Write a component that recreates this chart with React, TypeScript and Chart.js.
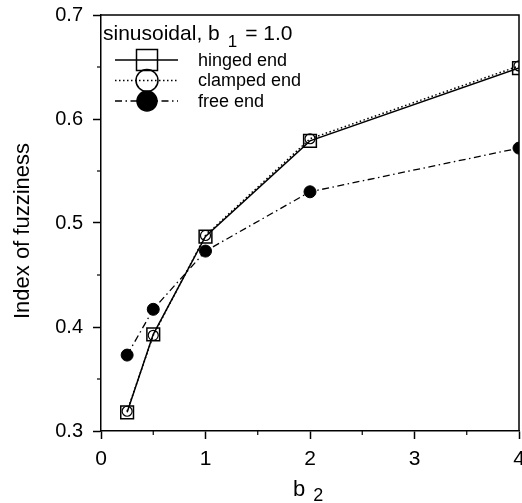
import React, { useEffect, useRef } from 'react';
import { Chart, registerables } from 'chart.js';

Chart.register(...registerables);

const xValues = [0.25, 0.5, 1, 2, 4];
const hingedEnd = [0.318, 0.393, 0.487, 0.579, 0.649];
const clampedEnd = [0.319, 0.392, 0.488, 0.581, 0.651];
const freeEnd = [0.373, 0.417, 0.473, 0.530, 0.572];
const xMinorTicks = [0.5, 1.5, 2.5, 3.5];
const yMinorTicks = [0.35, 0.45, 0.55, 0.65];
const seriesNames = ['hinged end', 'clamped end', 'free end'];
const legendTitle = ['sinusoidal, b', '1', '= 1.0'];
const xTitle = ['b', '2'];
const yTitle = 'Index of fuzziness';

const FONT = '"Liberation Sans", Arial, Helvetica, sans-serif';

const toPoints = (ys: number[]) => xValues.map((x, i) => ({ x, y: ys[i] }));

const decor = {
  id: 'decor',
  afterDraw(chart: any) {
    const { ctx, chartArea: a } = chart;
    const x = chart.scales.x;
    const y = chart.scales.y;
    ctx.save();
    ctx.strokeStyle = '#000';
    ctx.fillStyle = '#000';
    ctx.lineWidth = 1.5;
    ctx.setLineDash([]);
    // frame top & right
    ctx.beginPath();
    ctx.moveTo(a.left, a.top);
    ctx.lineTo(a.right, a.top);
    ctx.lineTo(a.right, a.bottom);
    ctx.stroke();
    // minor ticks
    ctx.lineWidth = 1.2;
    xMinorTicks.forEach((v) => {
      const px = x.getPixelForValue(v);
      ctx.beginPath();
      ctx.moveTo(px, a.bottom);
      ctx.lineTo(px, a.bottom + 4);
      ctx.stroke();
    });
    yMinorTicks.forEach((v) => {
      const py = y.getPixelForValue(v);
      ctx.beginPath();
      ctx.moveTo(a.left, py);
      ctx.lineTo(a.left - 4, py);
      ctx.stroke();
    });

    // y title
    ctx.save();
    ctx.font = `22px ${FONT}`;
    ctx.translate(29, 231);
    ctx.rotate(-Math.PI / 2);
    ctx.textAlign = 'center';
    ctx.textBaseline = 'alphabetic';
    ctx.fillText(yTitle, 0, 0);
    ctx.restore();

    // x title
    ctx.textAlign = 'left';
    ctx.textBaseline = 'alphabetic';
    ctx.font = `22px ${FONT}`;
    const bx = 293;
    ctx.fillText(xTitle[0], bx, 496);
    const bw = ctx.measureText(xTitle[0]).width;
    ctx.font = `18px ${FONT}`;
    ctx.fillText(xTitle[1], bx + bw + 8, 501);

    // legend title
    ctx.font = `21px ${FONT}`;
    const tx = 103;
    ctx.fillText(legendTitle[0], tx, 40);
    let cx = tx + ctx.measureText(legendTitle[0]).width + 8;
    ctx.font = `17px ${FONT}`;
    ctx.fillText(legendTitle[1], cx, 47);
    cx += ctx.measureText(legendTitle[1]).width + 8;
    ctx.font = `21px ${FONT}`;
    ctx.fillText(legendTitle[2], cx, 40);

    // legend entries
    ctx.font = `18px ${FONT}`;
    ctx.textBaseline = 'middle';
    chart.data.datasets.forEach((ds: any, i: number) => {
      const ly = 60 + 20.5 * i;
      ctx.lineWidth = ds.borderWidth;
      ctx.setLineDash(ds.borderDash || []);
      ctx.beginPath();
      ctx.moveTo(115, ly);
      ctx.lineTo(178, ly);
      ctx.stroke();
      ctx.setLineDash([]);
      ctx.lineWidth = 1.5;
      const mx = 147;
      if (ds.pointStyle === 'rect') {
        ctx.strokeRect(mx - 10.5, ly - 10.5, 21, 21);
      } else {
        ctx.beginPath();
        const r = ds.pointBackgroundColor === '#000' ? 10 : 11;
        ctx.arc(mx, ly, r, 0, Math.PI * 2);
        if (ds.pointBackgroundColor === '#000') ctx.fill();
        ctx.stroke();
      }
      ctx.fillText(seriesNames[i], 198, ly + 1);
    });
    ctx.restore();
  },
};

export default function App() {
  const ref = useRef<HTMLCanvasElement | null>(null);
  useEffect(() => {
    if (!ref.current) return;
    const chart = new Chart(ref.current, {
      type: 'line',
      data: {
        datasets: [
          {
            label: seriesNames[0],
            data: toPoints(hingedEnd),
            borderColor: '#000',
            borderWidth: 1.5,
            pointStyle: 'rect',
            pointRadius: 9,
            pointBorderWidth: 1.5,
            pointBorderColor: '#000',
            pointBackgroundColor: 'rgba(0,0,0,0)',
            tension: 0,
          },
          {
            label: seriesNames[1],
            data: toPoints(clampedEnd),
            borderColor: '#000',
            borderWidth: 1.5,
            borderDash: [1.5, 2.5],
            pointStyle: 'circle',
            pointRadius: 5,
            pointBorderWidth: 1.2,
            pointBorderColor: '#000',
            pointBackgroundColor: 'rgba(0,0,0,0)',
            tension: 0,
          },
          {
            label: seriesNames[2],
            data: toPoints(freeEnd),
            borderColor: '#000',
            borderWidth: 1.3,
            borderDash: [7, 3.5, 1.5, 3.5],
            pointStyle: 'circle',
            pointRadius: 6,
            pointBorderWidth: 1,
            pointBorderColor: '#000',
            pointBackgroundColor: '#000',
            tension: 0,
          },
        ] as any,
      },
      options: {
        animation: false,
        responsive: false,
        devicePixelRatio: 1,
        layout: { autoPadding: false, padding: { top: 15, right: 11, left: 0, bottom: 0 } },
        plugins: { legend: { display: false }, tooltip: { enabled: false } },
        scales: {
          x: {
            type: 'linear',
            min: 0,
            max: 4,
            ticks: {
              stepSize: 1,
              color: '#000',
              font: { family: FONT, size: 21 },
              padding: 8,
              maxRotation: 0,
            },
            grid: {
              display: true,
              drawOnChartArea: false,
              drawTicks: true,
              tickLength: 8,
              tickColor: '#000',
              tickWidth: 1.5,
            },
            border: { display: true, color: '#000', width: 1.5 },
            afterFit: (s: any) => {
              s.height = 72;
              s.paddingLeft = 0;
              s.paddingRight = 0;
            },
          },
          y: {
            type: 'linear',
            min: 0.3,
            max: 0.7,
            ticks: {
              stepSize: 0.1,
              color: '#000',
              font: { family: FONT, size: 20 },
              padding: 10,
              callback: (v: any) => Number(v).toFixed(1),
            },
            grid: {
              display: true,
              drawOnChartArea: false,
              drawTicks: true,
              tickLength: 8,
              tickColor: '#000',
              tickWidth: 1.5,
            },
            border: { display: true, color: '#000', width: 1.5 },
            afterFit: (s: any) => {
              s.width = 101;
              s.paddingTop = 0;
              s.paddingBottom = 0;
            },
          },
        },
      } as any,
      plugins: [decor],
    });
    return () => chart.destroy();
  }, []);
  return (
    <div
      style={{
        position: 'absolute',
        left: 0,
        top: 0,
        width: 522,
        height: 503,
        overflow: 'hidden',
        background: '#fff',
      }}
    >
      <canvas ref={ref} width={530} height={503} style={{ display: 'block' }} />
    </div>
  );
}
